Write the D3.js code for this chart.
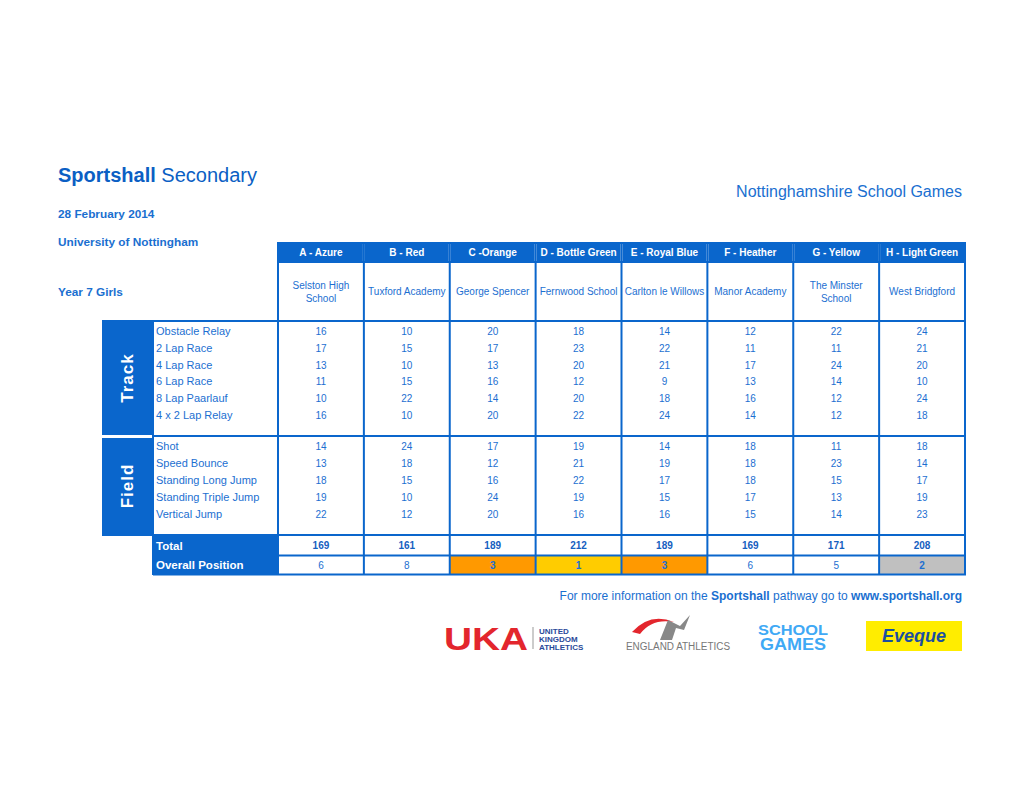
<!DOCTYPE html>
<html>
<head>
<meta charset="utf-8">
<script src="https://cdn.jsdelivr.net/npm/d3@7"></script>
<style>
  body { margin: 0; background: #fff; }
  text { font-family: "Liberation Sans", Arial, sans-serif; }
</style>
</head>
<body>
<div id="chart"></div>
<script>
// team / school columns
var teams = ["A - Azure", "B - Red", "C -Orange", "D - Bottle Green", "E - Royal Blue", "F - Heather", "G - Yellow", "H - Light Green"];
var schools = [["Selston High", "School"], ["Tuxford Academy"], ["George Spencer"], ["Fernwood School"], ["Carlton le Willows"], ["Manor Academy"], ["The Minster", "School"], ["West Bridgford"]];

// events
var trackEvents = ["Obstacle Relay", "2 Lap Race", "4 Lap Race", "6 Lap Race", "8 Lap Paarlauf", "4 x 2 Lap Relay"];
var fieldEvents = ["Shot", "Speed Bounce", "Standing Long Jump", "Standing Triple Jump", "Vertical Jump"];

// points, one row per event, one value per team
var trackScores = [
  [16, 10, 20, 18, 14, 12, 22, 24],
  [17, 15, 17, 23, 22, 11, 11, 21],
  [13, 10, 13, 20, 21, 17, 24, 20],
  [11, 15, 16, 12, 9, 13, 14, 10],
  [10, 22, 14, 20, 18, 16, 12, 24],
  [16, 10, 20, 22, 24, 14, 12, 18]
];
var fieldScores = [
  [14, 24, 17, 19, 14, 18, 11, 18],
  [13, 18, 12, 21, 19, 18, 23, 14],
  [18, 15, 16, 22, 17, 18, 15, 17],
  [19, 10, 24, 19, 15, 17, 13, 19],
  [22, 12, 20, 16, 16, 15, 14, 23]
];
var totals = [169, 161, 189, 212, 189, 169, 171, 208];
var positions = [6, 8, 3, 1, 3, 6, 5, 2];

var blue = "#0a66cc";
var textBlue = "#1c6fd1";
var medal = {1: "#ffcc00", 2: "#c0c0c0", 3: "#ff9900"};

var W = 1020, H = 788;
var svg = d3.select("#chart").append("svg").attr("width", W).attr("height", H);

// columns
var x = d3.scaleBand().domain(d3.range(teams.length)).range([278, 965]).padding(0);
var labelX0 = 153, bandX0 = 102;

// rows
var yTrack = d3.scaleBand().domain(d3.range(trackEvents.length)).range([323, 423]);
var yField = d3.scaleBand().domain(d3.range(fieldEvents.length)).range([438, 522]);

///////////////////////////// titles /////////////////////////////
var title = svg.append("text").attr("x", 58).attr("y", 182).style("font-size", "20px").style("fill", "#0b5fc4");
title.append("tspan").style("font-weight", "bold").text("Sportshall");
title.append("tspan").text(" Secondary");

svg.append("text").attr("x", 962).attr("y", 197).attr("text-anchor", "end")
  .style("font-size", "16px").style("fill", "#1a6fd0").text("Nottinghamshire School Games");

svg.append("text").attr("x", 58).attr("y", 218).style("font-size", "11.8px").style("font-weight", "bold")
  .style("fill", "#1a6fd0").text("28 February 2014");
svg.append("text").attr("x", 58).attr("y", 246).style("font-size", "11.8px").style("font-weight", "bold")
  .style("fill", "#1a6fd0").text("University of Nottingham");
svg.append("text").attr("x", 58).attr("y", 296).style("font-size", "11.8px").style("font-weight", "bold")
  .style("fill", "#1a6fd0").text("Year 7 Girls");

///////////////////////////// header /////////////////////////////
svg.append("rect").attr("x", x(0)).attr("y", 242).attr("width", 965 - x(0)).attr("height", 20).style("fill", blue);

svg.selectAll(".team").data(teams).enter().append("text")
  .attr("x", function(d, i) { return x(i) + x.bandwidth() / 2; })
  .attr("y", 256)
  .attr("text-anchor", "middle")
  .style("font-size", "10px").style("font-weight", "bold").style("fill", "#fff")
  .text(function(d) { return d; });

// white separators in header
svg.selectAll(".hsep").data(d3.range(1, teams.length)).enter().append("line")
  .attr("x1", function(i) { return x(i); }).attr("x2", function(i) { return x(i); })
  .attr("y1", 244).attr("y2", 261)
  .style("stroke", "#fff").style("stroke-width", 2);

svg.selectAll(".school").data(schools).enter().append("text")
  .attr("text-anchor", "middle")
  .style("font-size", "10px").style("fill", textBlue)
  .each(function(d, i) {
    var t = d3.select(this);
    var cx = x(i) + x.bandwidth() / 2;
    var y0 = d.length > 1 ? 289 : 295;
    d.forEach(function(line, k) {
      t.append("tspan").attr("x", cx).attr("y", y0 + k * 12.5).text(line);
    });
  });

///////////////////////////// side bands /////////////////////////////
svg.append("rect").attr("x", bandX0).attr("y", 321).attr("width", labelX0 - bandX0).attr("height", 114).style("fill", blue);
svg.append("rect").attr("x", bandX0).attr("y", 438).attr("width", labelX0 - bandX0).attr("height", 98).style("fill", blue);

svg.append("text").attr("transform", "translate(133,378) rotate(-90)").attr("text-anchor", "middle")
  .style("font-size", "17px").style("font-weight", "bold").style("fill", "#fff").style("letter-spacing", "1px").text("Track");
svg.append("text").attr("transform", "translate(133,486) rotate(-90)").attr("text-anchor", "middle")
  .style("font-size", "17px").style("font-weight", "bold").style("fill", "#fff").style("letter-spacing", "1px").text("Field");

///////////////////////////// event rows /////////////////////////////
function drawSection(events, scores, y, cls) {
  svg.selectAll("." + cls + "-lab").data(events).enter().append("text")
    .attr("x", 156)
    .attr("y", function(d, i) { return y(i) + y.bandwidth() / 2 + 4; })
    .style("font-size", "11px").style("fill", textBlue)
    .text(function(d) { return d; });

  var rows = svg.selectAll("." + cls + "-row").data(scores).enter().append("g")
    .attr("transform", function(d, i) { return "translate(0," + (y(i) + y.bandwidth() / 2 + 4) + ")"; });
  rows.selectAll("text").data(function(d) { return d; }).enter().append("text")
    .attr("x", function(d, i) { return x(i) + x.bandwidth() / 2; })
    .attr("text-anchor", "middle")
    .style("font-size", "10px").style("fill", textBlue)
    .text(function(d) { return d; });
}
drawSection(trackEvents, trackScores, yTrack, "track");
drawSection(fieldEvents, fieldScores, yField, "field");

///////////////////////////// totals /////////////////////////////
svg.append("rect").attr("x", labelX0).attr("y", 536).attr("width", x(0) - labelX0).attr("height", 19).style("fill", blue);
svg.append("rect").attr("x", labelX0).attr("y", 556).attr("width", x(0) - labelX0).attr("height", 19).style("fill", blue);
svg.append("text").attr("x", 156).attr("y", 550).style("font-size", "11.5px").style("font-weight", "bold").style("fill", "#fff").text("Total");
svg.append("text").attr("x", 156).attr("y", 569).style("font-size", "11.5px").style("font-weight", "bold").style("fill", "#fff").text("Overall Position");

svg.selectAll(".medal").data(positions).enter().append("rect")
  .attr("x", function(d, i) { return x(i); }).attr("y", 556)
  .attr("width", x.bandwidth()).attr("height", 18)
  .style("fill", function(d) { return medal[d] || "#fff"; });

svg.selectAll(".total").data(totals).enter().append("text")
  .attr("x", function(d, i) { return x(i) + x.bandwidth() / 2; }).attr("y", 549)
  .attr("text-anchor", "middle").style("font-size", "10px").style("font-weight", "bold").style("fill", "#1560c0")
  .text(function(d) { return d; });

svg.selectAll(".pos").data(positions).enter().append("text")
  .attr("x", function(d, i) { return x(i) + x.bandwidth() / 2; }).attr("y", 569)
  .attr("text-anchor", "middle").style("font-size", "10px")
  .style("font-weight", function(d) { return medal[d] ? "bold" : "normal"; })
  .style("fill", textBlue)
  .text(function(d) { return d; });

///////////////////////////// grid lines /////////////////////////////
var grid = svg.append("g").style("stroke", blue).style("stroke-width", 2).style("fill", "none");
// vertical lines through team columns
d3.range(teams.length + 1).forEach(function(i) {
  var xx = i < teams.length ? x(i) : 965;
  grid.append("line").attr("x1", xx).attr("x2", xx).attr("y1", 242).attr("y2", 575);
});
// label column left edge
grid.append("line").attr("x1", labelX0).attr("x2", labelX0).attr("y1", 321).attr("y2", 575);
// horizontal lines
[[x(0), 262], [bandX0, 321], [labelX0, 436], [labelX0, 535], [labelX0, 555.5], [labelX0, 574.5]].forEach(function(h) {
  grid.append("line").attr("x1", h[0]).attr("x2", 966).attr("y1", h[1]).attr("y2", h[1]);
});
grid.append("line").attr("x1", bandX0 + 2).attr("x2", labelX0 - 2).attr("y1", 436.5).attr("y2", 436.5)
  .style("stroke", "#fff").style("stroke-width", 2);

///////////////////////////// footer /////////////////////////////
var foot = svg.append("text").attr("x", 962).attr("y", 600).attr("text-anchor", "end")
  .style("font-size", "12px").style("fill", "#1a6fd0");
foot.append("tspan").text("For more information on the ");
foot.append("tspan").style("font-weight", "bold").text("Sportshall");
foot.append("tspan").text(" pathway go to ");
foot.append("tspan").style("font-weight", "bold").text("www.sportshall.org");

// sponsor logos (as text)
var logos = svg.append("g");
logos.append("text").attr("x", 444).attr("y", 650).attr("textLength", 84).attr("lengthAdjust", "spacingAndGlyphs")
  .style("font-size", "31px").style("font-weight", "bold").style("fill", "#e3262d").text("UKA");
logos.append("line").attr("x1", 533).attr("x2", 533).attr("y1", 627).attr("y2", 649).style("stroke", "#999").style("stroke-width", 1);
["UNITED", "KINGDOM", "ATHLETICS"].forEach(function(t, i) {
  logos.append("text").attr("x", 539).attr("y", 634 + i * 8).style("font-size", "8px").style("font-weight", "bold")
    .style("fill", "#2a4a9a").text(t);
});
logos.append("path").attr("d", "M632,632 Q650,612 674,622 Q652,618 640,634 Z").style("fill", "#e3262d");
logos.append("path").attr("d", "M660,640 L668,620 L680,626 L690,615 L684,630 L676,628 L672,640 Z").style("fill", "#888");
logos.append("text").attr("x", 626).attr("y", 650).attr("textLength", 104).attr("lengthAdjust", "spacingAndGlyphs")
  .style("font-size", "10px").style("fill", "#777").text("ENGLAND ATHLETICS");
logos.append("text").attr("x", 758).attr("y", 635).attr("textLength", 70).attr("lengthAdjust", "spacingAndGlyphs")
  .style("font-size", "15px").style("font-weight", "bold").style("fill", "#3fa9f5").text("SCHOOL");
logos.append("text").attr("x", 760).attr("y", 650).attr("textLength", 66).attr("lengthAdjust", "spacingAndGlyphs")
  .style("font-size", "16px").style("font-weight", "bold").style("fill", "#3fa9f5").text("GAMES");
logos.append("rect").attr("x", 866).attr("y", 621).attr("width", 96).attr("height", 30).style("fill", "#ffed00");
logos.append("text").attr("x", 914).attr("y", 642).attr("text-anchor", "middle").style("font-size", "18px").style("font-weight", "bold")
  .style("font-style", "italic").style("fill", "#1a4fa0").text("Eveque");
</script>
</body>
</html>
